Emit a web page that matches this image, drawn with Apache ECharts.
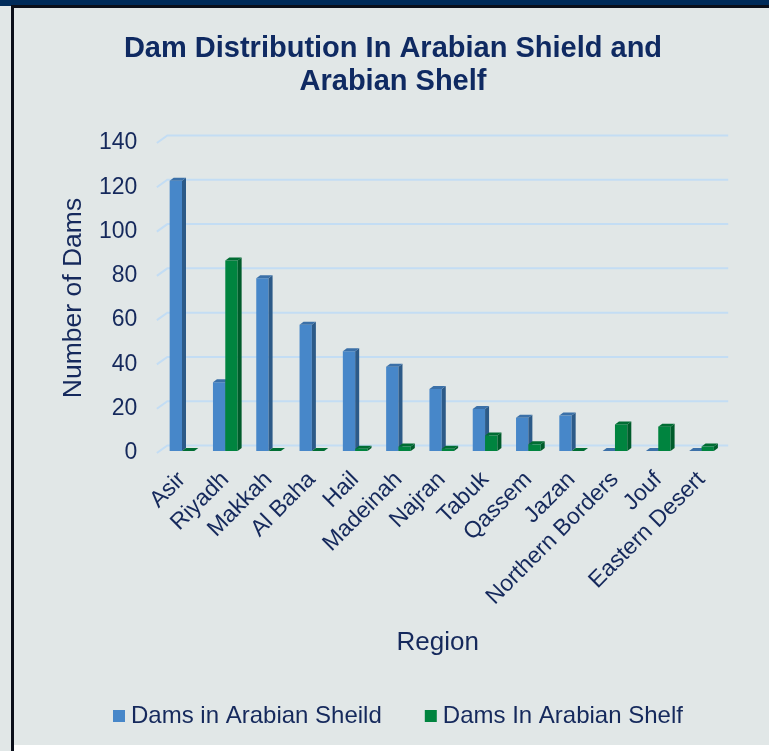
<!DOCTYPE html>
<html>
<head>
<meta charset="utf-8">
<title>Dam Distribution</title>
<script src="https://cdn.jsdelivr.net/npm/echarts@6/dist/echarts.min.js"></script>
<style>
  html, body { margin: 0; padding: 0; background: #ffffff; }
  #chart { width: 769px; height: 751px; }
</style>
</head>
<body>
<div id="chart"></div>
<script>
// Regions along the category axis
const regions = ['Asir', 'Riyadh', 'Makkah', 'Al Baha', 'Hail', 'Madeinah', 'Najran',
  'Tabuk', 'Qassem', 'Jazan', 'Northern Borders', 'Jouf', 'Eastern Desert'];
// Number of dams per region
const shieldDams = [122, 31, 78, 57, 45, 38, 28, 19, 15, 16, 0, 0, 0];
const shelfDams  = [0, 86, 0, 0, 1, 2, 1, 7, 3, 0, 12, 11, 2];
// Value-axis ticks
const yTicks = [0, 20, 40, 60, 80, 100, 120, 140];

const seriesNames = ['Dams in Arabian Sheild', 'Dams In Arabian Shelf'];
const FONT = "'Liberation Sans', Arial, sans-serif";
const TEXT = '#15295c';

// Faux-3D styling
const DEPTH_X = 4, DEPTH_Y = -3, LIFT = 2;      // bar depth and distance behind the floor edge
const WALL_X = 10.5, WALL_Y = -7.5;             // back wall offset for the gridlines
const palettes = [
  { front: '#4787c9', side: '#2c5a88', top: '#3b70a8' },
  { front: '#00843f', side: '#005c2b', top: '#006d33' }
];

function barRenderer(idx) {
  const pal = palettes[idx];
  return function (params, api) {
    const cat = api.value(0), v = api.value(1);
    const base = api.coord([cat, 0]);
    const top = api.coord([cat, v]);
    const band = api.size([1, 0])[0];
    const w = band * 0.285;
    const x0 = base[0] - w + idx * w;
    const yb = base[1] - LIFT, yt = top[1] - LIFT;
    return {
      type: 'group',
      children: [
        { type: 'rect', shape: { x: x0, y: yt, width: w, height: yb - yt },
          style: { fill: pal.front } },
        { type: 'polygon', shape: { points: [[x0 + w, yt], [x0 + w + DEPTH_X, yt + DEPTH_Y],
            [x0 + w + DEPTH_X, yb + DEPTH_Y], [x0 + w, yb]] },
          style: { fill: pal.side } },
        { type: 'polygon', shape: { points: [[x0, yt], [x0 + w, yt],
            [x0 + w + DEPTH_X, yt + DEPTH_Y], [x0 + DEPTH_X, yt + DEPTH_Y]] },
          style: { fill: pal.top } }
      ]
    };
  };
}

// Gridlines drawn on the back wall with a short diagonal across the floor/side
function gridRenderer(params, api) {
  const v = api.value(1);
  const band = api.size([1, 0])[0];
  const left = api.coord([0, v])[0] - band / 2;
  const right = api.coord([regions.length - 1, v])[0] + band / 2;
  const y = api.coord([0, v])[1];
  return {
    type: 'polyline',
    shape: { points: [[left - 3.5, y], [left + WALL_X - 3.5, y + WALL_Y], [right + 5, y + WALL_Y]] },
    style: { stroke: '#c3ddf4', lineWidth: 2, fill: null }
  };
}

const chart = echarts.init(document.getElementById('chart'), null, { renderer: 'canvas' });

chart.setOption({
  backgroundColor: '#e1e7e7',
  animation: false,
  textStyle: { fontFamily: FONT },
  title: {
    text: 'Dam Distribution In Arabian Shield and\nArabian Shelf',
    left: 388,
    top: 27,
    textAlign: 'center',
    textStyle: { fontFamily: FONT, fontSize: 29, fontWeight: 'bold', color: '#0f2a62', lineHeight: 33 }
  },
  legend: {
    data: seriesNames,
    left: 113,
    top: 704,
    padding: 0,
    itemWidth: 12,
    itemHeight: 12,
    itemGap: 43,
    icon: 'rect',
    textStyle: { fontFamily: FONT, fontSize: 24, color: TEXT, padding: [0, 0, 0, 1] }
  },
  grid: { left: 160.35, right: 45.8, top: 143, bottom: 298 },
  xAxis: {
    type: 'category',
    data: regions,
    name: 'Region',
    nameLocation: 'middle',
    nameGap: 177,
    nameTextStyle: { fontFamily: FONT, fontSize: 26, color: TEXT, verticalAlign: 'top', padding: [0, 8, 0, 0] },
    axisLine: { show: false },
    axisTick: { show: false },
    axisLabel: { interval: 0, rotate: 45, margin: 23, fontFamily: FONT, fontSize: 23, color: TEXT }
  },
  yAxis: {
    type: 'value',
    min: 0,
    max: 140,
    interval: 20,
    name: 'Number of Dams',
    nameLocation: 'middle',
    nameGap: 73,
    nameTextStyle: { fontFamily: FONT, fontSize: 26.5, color: TEXT },
    axisLine: { show: false },
    axisTick: { show: false },
    splitLine: { show: false },
    axisLabel: { margin: 23, fontFamily: FONT, fontSize: 23, color: TEXT }
  },
  series: [
    {
      name: 'gridlines',
      type: 'custom',
      renderItem: gridRenderer,
      data: yTicks.map(v => [0, v]),
      silent: true,
      z: 1
    },
    {
      name: seriesNames[0],
      type: 'custom',
      renderItem: barRenderer(0),
      itemStyle: { color: palettes[0].front },
      encode: { x: 0, y: 1 },
      data: shieldDams.map((v, i) => [i, v]),
      z: 3
    },
    {
      name: seriesNames[1],
      type: 'custom',
      renderItem: barRenderer(1),
      itemStyle: { color: palettes[1].front },
      encode: { x: 0, y: 1 },
      data: shelfDams.map((v, i) => [i, v]),
      z: 3
    }
  ],
  graphic: [
    // frame: navy band on top, dark rules, white strip at the bottom
    { type: 'rect', shape: { x: 0, y: 0, width: 769, height: 6 }, style: { fill: '#002b5a' }, z: 100 },
    { type: 'rect', shape: { x: 11, y: 5, width: 758, height: 3 }, style: { fill: '#0b0f1a' }, z: 100 },
    { type: 'rect', shape: { x: 11, y: 5, width: 3, height: 746 }, style: { fill: '#0b0f1a' }, z: 100 },
    { type: 'rect', shape: { x: 14, y: 745, width: 755, height: 6 }, style: { fill: '#ffffff' }, z: 100 }
  ]
});
</script>
</body>
</html>
